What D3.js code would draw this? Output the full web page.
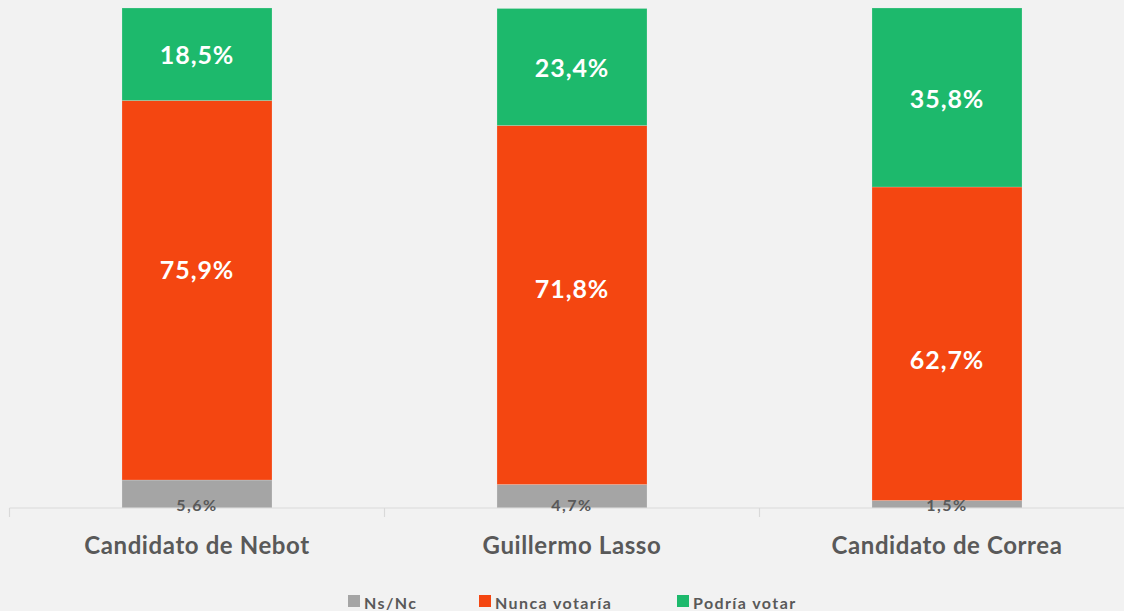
<!DOCTYPE html>
<html>
<head>
<meta charset="utf-8">
<script src="https://cdn.jsdelivr.net/npm/d3@7"></script>
<style>
  html, body { margin: 0; padding: 0; background: #F2F2F2; }
  svg { display: block; font-family: Lato, "Open Sans", sans-serif; }
</style>
</head>
<body>
<svg id="chart" width="1124" height="611"></svg>
<script>
// Candidates and the share for each answer (percent)
const categories = ["Candidato de Nebot", "Guillermo Lasso", "Candidato de Correa"];
const seriesNames = ["Ns/Nc", "Nunca votaría", "Podría votar"];
const nsnc = [5.6, 4.7, 1.5];
const nunca = [75.9, 71.8, 62.7];
const podria = [18.5, 23.4, 35.8];
const colors = ["#A5A5A5", "#F44611", "#1DB96C"];

// hand-placed vertical nudges (px) for the labels of the middle segment
const middleLabelNudge = [-21, -17, 15];

const rows = categories.map((c, i) => ({
  cat: c, "Ns/Nc": nsnc[i], "Nunca votaría": nunca[i], "Podría votar": podria[i]
}));

const svg = d3.select("#chart");
const baseY = 508, topY = 8;

const x = d3.scaleBand().domain(categories).range([9.5, 1134.5]).paddingInner(0).paddingOuter(0);
const y = d3.scaleLinear().domain([0, 100]).range([baseY, topY]);
const color = d3.scaleOrdinal().domain(seriesNames).range(colors);
const barW = x.bandwidth() * 0.4;

const stack = d3.stack().keys(seriesNames)(rows);

const fmt = v => d3.format(".1f")(v).replace(".", ",") + "%";

// stacked bars
const layers = svg.append("g").selectAll("g").data(stack).join("g")
  .attr("fill", d => color(d.key));

layers.selectAll("rect").data(d => d).join("rect")
  .attr("x", d => x(d.data.cat) + (x.bandwidth() - barW) / 2)
  .attr("y", d => y(d[1]))
  .attr("width", barW)
  .attr("height", d => y(d[0]) - y(d[1]))
  .attr("stroke", "#F2F2F2")
  .attr("stroke-opacity", 0.35)
  .attr("stroke-width", 0.6);

// axis baseline with category boundary ticks
const axis = d3.axisBottom(x).tickSize(0).tickFormat("");
const axisG = svg.append("g").attr("transform", `translate(0,${baseY})`).call(axis);
axisG.select(".domain").attr("stroke", "#D9D9D9").attr("stroke-width", 1.2)
  .attr("d", "M9.5,0H1134.5");
axisG.selectAll(".tick").remove();
d3.range(categories.length + 1).forEach(i => {
  const xp = x.range()[0] + i * x.step();
  axisG.append("line").attr("x1", xp).attr("x2", xp).attr("y1", 0).attr("y2", 9)
    .attr("stroke", "#D9D9D9").attr("stroke-width", 1.2);
});

// value labels
stack.forEach((layer, li) => {
  layer.forEach((d, ci) => {
    const cx = x(d.data.cat) + x.bandwidth() / 2;
    const v = d.data[layer.key];
    const isBase = li === 0;
    let cy = isBase ? baseY - 4 : (y(d[0]) + y(d[1])) / 2;
    if (li === 1) cy += middleLabelNudge[ci];
    svg.append("text")
      .attr("x", cx).attr("y", cy)
      .attr("text-anchor", "middle")
      .attr("dominant-baseline", "central")
      .attr("font-weight", "bold")
      .attr("font-size", isBase ? 16 : 25)
      .attr("letter-spacing", isBase ? 1.5 : 0.9)
      .attr("fill", isBase ? "#595959" : "#FFFFFF")
      .text(fmt(v));
  });
});

// category labels
svg.append("g").selectAll("text").data(categories).join("text")
  .attr("x", d => x(d) + x.bandwidth() / 2)
  .attr("y", 544)
  .attr("text-anchor", "middle")
  .attr("dominant-baseline", "central")
  .attr("font-weight", "bold")
  .attr("font-size", 24)
  .attr("letter-spacing", 0.6)
  .attr("fill", "#595959")
  .text(d => d);

// legend
const legendX = [348, 479, 677];
const legend = svg.append("g").selectAll("g").data(seriesNames).join("g")
  .attr("transform", (d, i) => `translate(${legendX[i]},595)`);
legend.append("rect").attr("width", 12).attr("height", 12).attr("fill", d => color(d));
legend.append("text").attr("x", 16).attr("y", 7)
  .attr("dominant-baseline", "central")
  .attr("font-weight", "bold").attr("font-size", 16).attr("letter-spacing", 1.4)
  .attr("fill", "#595959")
  .text(d => d);
</script>
</body>
</html>
